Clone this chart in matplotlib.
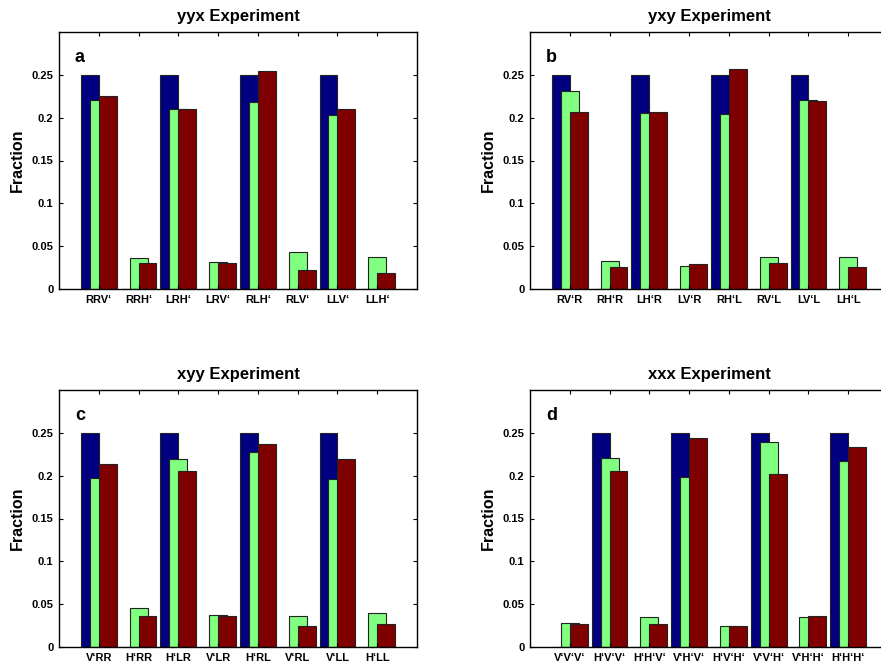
import numpy as np
import matplotlib.pyplot as plt

plt.rcParams['font.family'] = ['Liberation Sans', 'DejaVu Sans']
plt.rcParams['font.weight'] = 'bold'

q = '\u2018'

# tick labels per panel
labels_a = ['RRV' + q, 'RRH' + q, 'LRH' + q, 'LRV' + q, 'RLH' + q, 'RLV' + q, 'LLV' + q, 'LLH' + q]
labels_b = ['RV' + q + 'R', 'RH' + q + 'R', 'LH' + q + 'R', 'LV' + q + 'R',
            'RH' + q + 'L', 'RV' + q + 'L', 'LV' + q + 'L', 'LH' + q + 'L']
labels_c = ['V' + q + 'RR', 'H' + q + 'RR', 'H' + q + 'LR', 'V' + q + 'LR',
            'H' + q + 'RL', 'V' + q + 'RL', 'V' + q + 'LL', 'H' + q + 'LL']
labels_d = ['V' + q + 'V' + q + 'V' + q, 'H' + q + 'V' + q + 'V' + q, 'H' + q + 'H' + q + 'V' + q,
            'V' + q + 'H' + q + 'V' + q, 'H' + q + 'V' + q + 'H' + q, 'V' + q + 'V' + q + 'H' + q,
            'V' + q + 'H' + q + 'H' + q, 'H' + q + 'H' + q + 'H' + q]

# theory (blue), measured 1 (green), measured 2 (red)
theory_a = [0.25, 0, 0.25, 0, 0.25, 0, 0.25, 0]
green_a = [0.2205, 0.0358, 0.210, 0.0319, 0.218, 0.0435, 0.203, 0.0377]
red_a = [0.225, 0.030, 0.2103, 0.030, 0.255, 0.0222, 0.210, 0.0183]

theory_b = [0.25, 0, 0.25, 0, 0.25, 0, 0.25, 0]
green_b = [0.2317, 0.033, 0.2057, 0.0272, 0.204, 0.0377, 0.2212, 0.0377]
red_b = [0.2065, 0.0253, 0.2065, 0.0288, 0.2566, 0.0307, 0.2189, 0.0253]

theory_c = [0.25, 0, 0.25, 0, 0.25, 0, 0.25, 0]
green_c = [0.197, 0.0459, 0.220, 0.0373, 0.2282, 0.0362, 0.1956, 0.0393]
red_c = [0.2142, 0.0362, 0.2049, 0.0362, 0.2364, 0.0249, 0.220, 0.0268]

theory_d = [0, 0.25, 0, 0.25, 0, 0.25, 0, 0.25]
green_d = [0.028, 0.2205, 0.0346, 0.1987, 0.0249, 0.2395, 0.0346, 0.2173]
red_d = [0.0268, 0.2057, 0.0268, 0.2438, 0.0249, 0.2022, 0.0358, 0.2329]

titles = ['yyx Experiment', 'yxy Experiment', 'xyy Experiment', 'xxx Experiment']
letters = ['a', 'b', 'c', 'd']

fig = plt.figure(figsize=(8.81, 6.71), dpi=100)

W = 358 / 881
H = 257 / 671
positions = [(59 / 881, 382 / 671), (530 / 881, 382 / 671),
             (59 / 881, 24 / 671), (530 / 881, 24 / 671)]

panels = [(labels_a, theory_a, green_a, red_a),
          (labels_b, theory_b, green_b, red_b),
          (labels_c, theory_c, green_c, red_c),
          (labels_d, theory_d, green_d, red_d)]

for k, (labs, th, gr, rd) in enumerate(panels):
    ax = fig.add_axes([positions[k][0], positions[k][1], W, H])
    x = np.arange(1, 9)
    w = 0.45
    ax.bar(x - 0.225, th, width=w, color='#000080', edgecolor='#222222', linewidth=0.8)
    ax.bar(x, gr, width=w, color='#80ff80', edgecolor='#222222', linewidth=0.8)
    ax.bar(x + 0.225, rd, width=w, color='#800000', edgecolor='#222222', linewidth=0.8)
    ax.set_xlim(0, 9)
    ax.set_ylim(0, 0.3)
    ax.set_xticks(x)
    ax.set_xticklabels(labs, fontsize=8, fontweight='bold')
    ax.set_yticks([0, 0.05, 0.1, 0.15, 0.2, 0.25])
    ax.set_yticklabels(['0', '0.05', '0.1', '0.15', '0.2', '0.25'], fontsize=8, fontweight='bold')
    ax.tick_params(direction='in', top=True, right=True, length=3, width=0.8, pad=4)
    for s in ax.spines.values():
        s.set_linewidth(1.0)
    ax.set_ylabel('Fraction', fontsize=11.5, fontweight='bold', labelpad=5)
    ax.set_title(titles[k], fontsize=12, fontweight='bold', pad=8)
    ax.text(0.4, 0.27, letters[k], fontsize=13, fontweight='bold', ha='left', va='center')

fig.savefig('out.png', dpi=100)
